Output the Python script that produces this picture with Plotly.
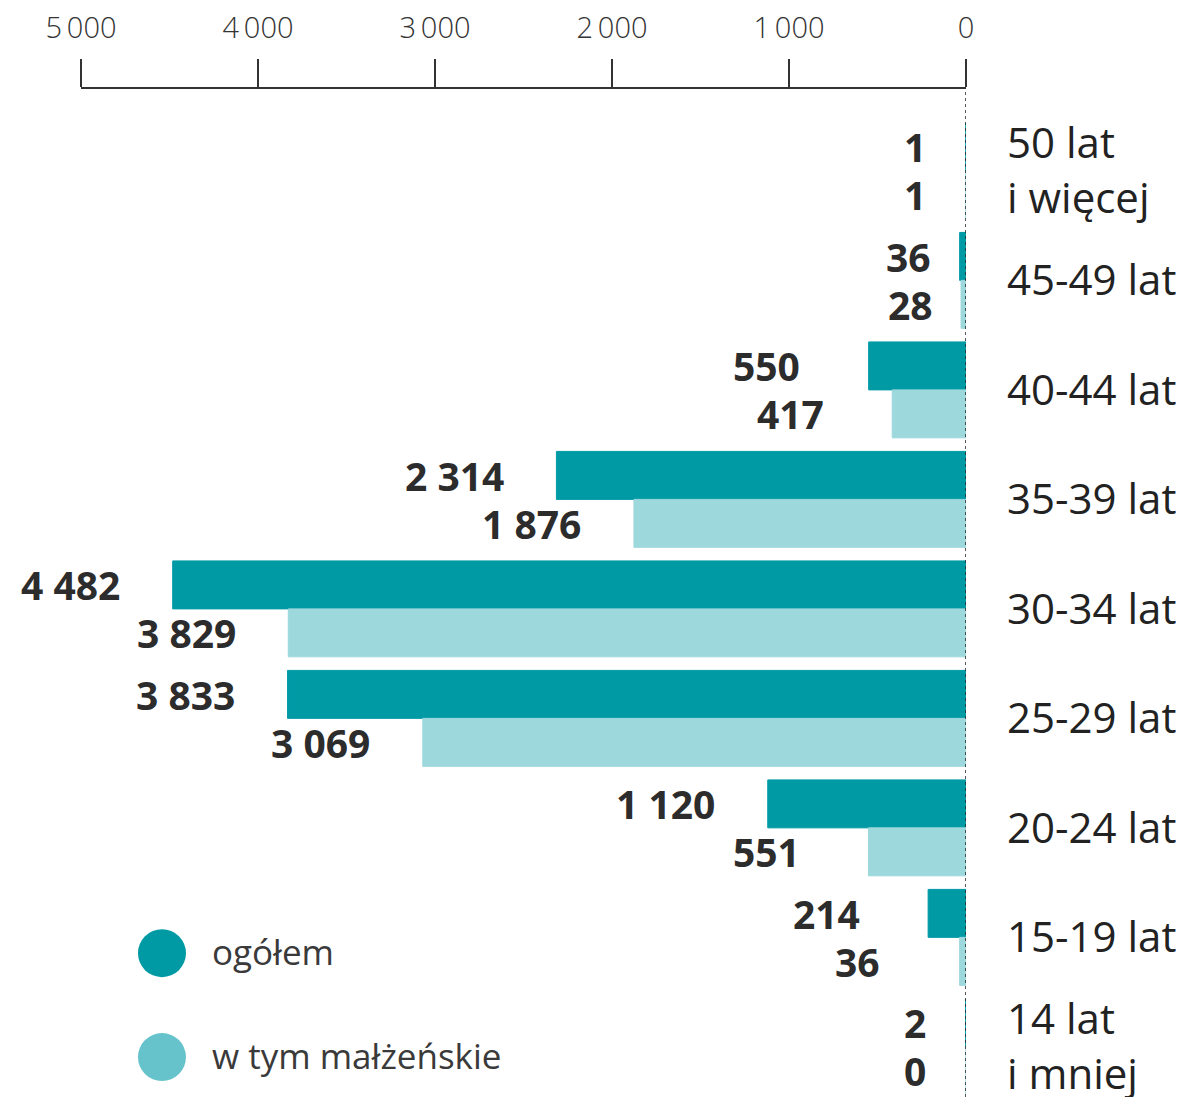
import plotly.graph_objects as go

categories = ["50 lat<br>i więcej", "45-49 lat", "40-44 lat", "35-39 lat", "30-34 lat",
              "25-29 lat", "20-24 lat", "15-19 lat", "14 lat<br>i mniej"]
ogolem = [1, 36, 550, 2314, 4482, 3833, 1120, 214, 2]
malzenskie = [1, 28, 417, 1876, 3829, 3069, 551, 36, 0]
tick_vals = [5000, 4000, 3000, 2000, 1000, 0]
tick_text = ["5\u2009000", "4\u2009000", "3\u2009000", "2\u2009000", "1\u2009000", "0"]
series_names = ["ogółem", "w tym małżeńskie"]

DARK = "#009AA5"
LIGHT = "#9DD8DC"
LEG_LIGHT = "#66C3CB"
TXT = "#2c2c2c"
FONT = "Open Sans"

fig = go.Figure()
fig.add_trace(go.Bar(y=categories, x=ogolem, orientation="h", marker_color=DARK,
                     marker_line=dict(color=DARK, width=1),
                     name=series_names[0], showlegend=False))
fig.add_trace(go.Bar(y=categories, x=malzenskie, orientation="h", marker_color=LIGHT,
                     marker_line=dict(color=LIGHT, width=1),
                     name=series_names[1], showlegend=False))

def fmt(v):
    return f"{v:,}".replace(",", " ")

annotations = []
for i, cat in enumerate(categories):
    shift = -102 if max(ogolem[i], malzenskie[i]) >= 100 else -51
    for vals, yoff in ((ogolem, -24), (malzenskie, 24)):
        annotations.append(dict(x=vals[i], y=cat, xref="x", yref="y", text=fmt(vals[i]),
                                showarrow=False, xanchor="center", yanchor="middle",
                                xshift=shift, yshift=-yoff,
                                font=dict(family=FONT, size=39, color=TXT, weight="bold")))

# legend
leg_y = [0.1427, 0.0396]
leg_col = [DARK, LEG_LIGHT]
shapes = []
for name, yy, col in zip(series_names, leg_y, leg_col):
    shapes.append(dict(type="circle", xref="paper", yref="paper", xsizemode="pixel",
                       ysizemode="pixel", xanchor=0.0915, yanchor=yy, x0=-24, x1=24,
                       y0=-24, y1=24, fillcolor=col, line=dict(width=0)))
    annotations.append(dict(x=0.1458, y=yy, xref="paper", yref="paper", text=name,
                            showarrow=False, xanchor="left", yanchor="middle", yshift=2,
                            font=dict(family=FONT, size=35, color="#3a3a3a")))

shapes.append(dict(type="line", xref="x", yref="paper", x0=0, x1=0, y0=0, y1=1,
                   line=dict(color="#222222", width=1.5, dash="dot")))

fig.update_layout(
    width=1196, height=1089, autosize=False,
    margin=dict(l=73, r=238, t=81, b=0),
    paper_bgcolor="white", plot_bgcolor="white",
    barmode="group", bargap=0.124, bargroupgap=0,
    annotations=annotations, shapes=shapes,
    xaxis=dict(side="top", range=[5000, 0], tickvals=tick_vals, ticktext=tick_text,
               ticks="outside", ticklen=28, tickwidth=1.5, tickcolor="#333333",
               showline=True, linecolor="#333333", linewidth=2, automargin=False,
               showgrid=False, zeroline=False, ticklabelstandoff=9,
               tickfont=dict(family=FONT, size=29, color="#333333", weight=300)),
    yaxis=dict(side="right", range=[8.458, -0.748], showgrid=False, zeroline=False,
               showline=False, ticks="", ticklabelstandoff=40, automargin=False,
               tickfont=dict(family=FONT, size=42, color="#222222")),
)

fig.write_html("out.html")
